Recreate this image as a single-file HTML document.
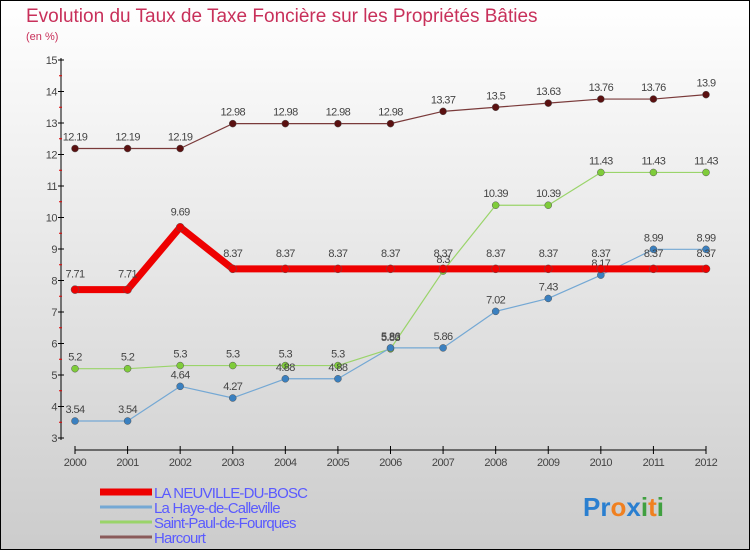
<!DOCTYPE html>
<html><head><meta charset="utf-8"><style>
body{margin:0}
svg{display:block}
text{font-family:"Liberation Sans",sans-serif}
</style></head><body>
<svg id="c" width="750" height="550" xmlns="http://www.w3.org/2000/svg">
<defs><linearGradient id="bg" x1="0" y1="0" x2="0" y2="1"><stop offset="0" stop-color="#ffffff"/><stop offset="1" stop-color="#cccccc"/></linearGradient></defs>
<rect x="0.5" y="0.5" width="749" height="549" fill="url(#bg)" stroke="#000"/>
<text x="26" y="22" font-size="19" fill="#c8305a">Evolution du Taux de Taxe Foncière sur les Propriétés Bâties</text>
<text x="26" y="40" font-size="11" fill="#c8305a">(en %)</text>
<g id="axes"></g><g id="series"></g><g id="legend"></g>
<text x="583" y="516" font-size="26" font-weight="bold"><tspan fill="#2a7fd0">Pr</tspan><tspan fill="#f08020">o</tspan><tspan fill="#2a7fd0">x</tspan><tspan fill="#40a040">i</tspan><tspan fill="#f08020">t</tspan><tspan fill="#40a040">i</tspan></text>
</svg>
<script>
const years=[2000,2001,2002,2003,2004,2005,2006,2007,2008,2009,2010,2011,2012];
const yTicks=[3,4,5,6,7,8,9,10,11,12,13,14,15];
const neuville=[7.71,7.71,9.69,8.37,8.37,8.37,8.37,8.37,8.37,8.37,8.37,8.37,8.37];
const haye=[3.54,3.54,4.64,4.27,4.88,4.88,5.86,5.86,7.02,7.43,8.17,8.99,8.99];
const stpaul=[5.2,5.2,5.3,5.3,5.3,5.3,5.83,8.3,10.39,10.39,11.43,11.43,11.43];
const harcourt=[12.19,12.19,12.19,12.98,12.98,12.98,12.98,13.37,13.5,13.63,13.76,13.76,13.9];
const seriesNames=["LA NEUVILLE-DU-BOSC","La Haye-de-Calleville","Saint-Paul-de-Fourques","Harcourt"];
const NS="http://www.w3.org/2000/svg";
const X=i=>75+i*(706-75)/(years.length-1);
const Y=v=>438-(v-3)*31.5;
function mk(t,a,p){const e=document.createElementNS(NS,t);for(const k in a)e.setAttribute(k,a[k]);p.appendChild(e);return e;}
const ax=document.getElementById('axes');
const yl=mk('line',{x1:61,y1:58,x2:61,y2:440,stroke:'#000'},ax);


yTicks.forEach(v=>{
 mk('line',{x1:58,x2:64,y1:Y(v),y2:Y(v),stroke:'#000'},ax);
 if(v<15)mk('line',{x1:59,x2:62,y1:Y(v+0.5),y2:Y(v+0.5),stroke:'#e00000'},ax);
 const t=mk('text',{x:57,y:Y(v)+4,'font-size':11,fill:'#444','text-anchor':'end','letter-spacing':'-0.5'},ax);
 t.textContent=v;
 
 
});
const xl=mk('line',{x1:75,y1:450,x2:706,y2:450,stroke:'#000'},ax);


years.forEach((y,i)=>{
 mk('line',{x1:X(i),x2:X(i),y1:446,y2:454,stroke:'#000'},ax);
 const t=mk('text',{x:X(i),y:466,'font-size':11,fill:'#444','text-anchor':'middle','letter-spacing':'-0.5'},ax);
 t.textContent=y;
 
 
});
const sg=document.getElementById('series');
function draw(data,color,dot,w,r,name){
 const g=mk('g',{},sg);
 
 
 mk('polyline',{points:data.map((v,i)=>X(i)+','+Y(v)).join(' '),fill:'none',stroke:color,'stroke-width':w,'stroke-linejoin':'round'},g);
 data.forEach((v,i)=>{
  const c=mk('circle',{cx:X(i),cy:Y(v),r:r,fill:dot,stroke:'#555','stroke-width':0.5},g);
  
  
  const t=mk('text',{x:X(i),y:Y(v)-(w>3?12:8),'font-size':11,fill:'#444','text-anchor':'middle','letter-spacing':'-0.6'},g);
  t.textContent=v;
  
  
 });
}
draw(harcourt,'#7a3a3a','#5a1010',1.2,3.5,'series-harcourt');
draw(stpaul,'#9ad46a','#7fcc3a',1.2,3.5,'series-saint-paul');
draw(haye,'#74a8d4','#3a80c0',1.2,3.5,'series-la-haye');
draw(neuville,'#ee0000','#ee0000',7,4,'series-la-neuville');
const lg=document.getElementById('legend');
const cols=['#ee0000','#74a8d4','#9ad46a','#8a5a5a'];
seriesNames.forEach((n,i)=>{
 const y=492+i*15;
 const g=mk('g',{},lg);
 
 
 mk('line',{x1:100,x2:152,y1:y,y2:y,stroke:cols[i],'stroke-width':i==0?7:3},g);
 const t=mk('text',{x:154,y:y+6,'font-size':15,fill:'#5a5aff','letter-spacing':'-0.8'},g);
 t.textContent=n;
});
</script>
</body></html>
